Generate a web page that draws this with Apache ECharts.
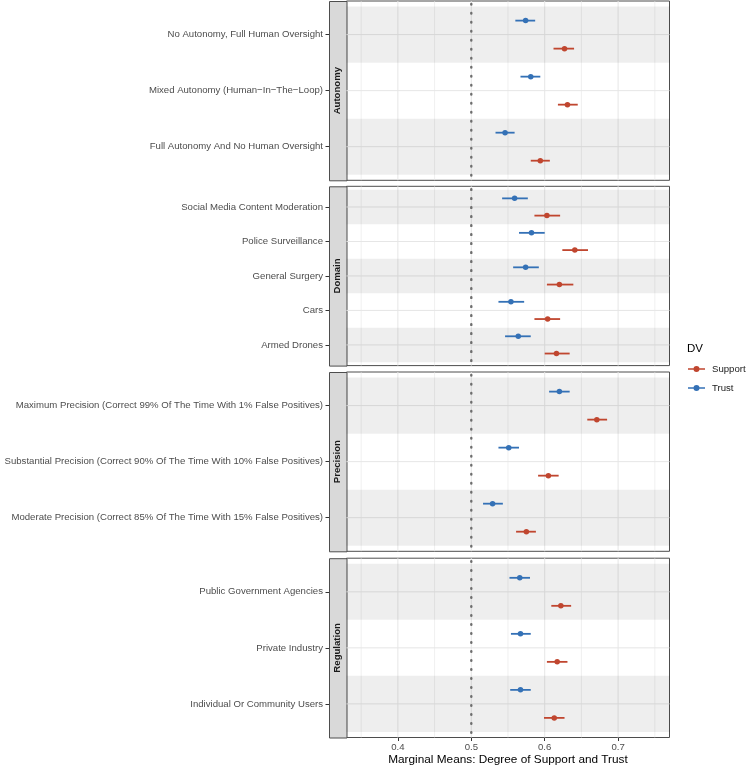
<!DOCTYPE html>
<html>
<head>
<meta charset="utf-8">
<script src="https://cdn.jsdelivr.net/npm/echarts@6/dist/echarts.min.js"></script>
<style>
html,body{margin:0;padding:0;background:#fff;}
#main{width:750px;height:769px;}
</style>
</head>
<body>
<div id="main"></div>
<script>
// facet names
var facetNames = ['Autonomy', 'Domain', 'Precision', 'Regulation'];

// levels of each facet (top to bottom)
var autonomyLabels = ['No Autonomy, Full Human Oversight', 'Mixed Autonomy (Human\u2212In\u2212The\u2212Loop)', 'Full Autonomy And No Human Oversight'];
var domainLabels = ['Social Media Content Moderation', 'Police Surveillance', 'General Surgery', 'Cars', 'Armed Drones'];
var precisionLabels = ['Maximum Precision (Correct 99% Of The Time With 1% False Positives)', 'Substantial Precision (Correct 90% Of The Time With 10% False Positives)', 'Moderate Precision (Correct 85% Of The Time With 15% False Positives)'];
var regulationLabels = ['Public Government Agencies', 'Private Industry', 'Individual Or Community Users'];

// marginal means + 95% CI, Trust
var autonomyTrust = [0.574, 0.581, 0.546];
var autonomyTrustLow = [0.560, 0.567, 0.533];
var autonomyTrustHigh = [0.587, 0.594, 0.559];
var domainTrust = [0.559, 0.582, 0.574, 0.554, 0.564];
var domainTrustLow = [0.542, 0.565, 0.557, 0.537, 0.546];
var domainTrustHigh = [0.577, 0.600, 0.592, 0.572, 0.581];
var precisionTrust = [0.620, 0.551, 0.529];
var precisionTrustLow = [0.606, 0.537, 0.516];
var precisionTrustHigh = [0.634, 0.565, 0.543];
var regulationTrust = [0.566, 0.567, 0.567];
var regulationTrustLow = [0.552, 0.554, 0.553];
var regulationTrustHigh = [0.580, 0.581, 0.581];

// marginal means + 95% CI, Support
var autonomySupport = [0.627, 0.631, 0.594];
var autonomySupportLow = [0.612, 0.618, 0.581];
var autonomySupportHigh = [0.640, 0.645, 0.607];
var domainSupport = [0.603, 0.641, 0.620, 0.604, 0.616];
var domainSupportLow = [0.586, 0.624, 0.603, 0.586, 0.600];
var domainSupportHigh = [0.621, 0.659, 0.639, 0.621, 0.634];
var precisionSupport = [0.671, 0.605, 0.575];
var precisionSupportLow = [0.658, 0.591, 0.561];
var precisionSupportHigh = [0.685, 0.619, 0.588];
var regulationSupport = [0.622, 0.617, 0.613];
var regulationSupportLow = [0.609, 0.603, 0.599];
var regulationSupportHigh = [0.636, 0.631, 0.627];

// x axis ticks
var xTicks = [0.4, 0.5, 0.6, 0.7];
var xMinorTicks = [0.35, 0.45, 0.55, 0.65, 0.75];
var refValue = 0.5;

var panels = [
	{labels: autonomyLabels, trust: [autonomyTrust, autonomyTrustLow, autonomyTrustHigh], support: [autonomySupport, autonomySupportLow, autonomySupportHigh]},
	{labels: domainLabels, trust: [domainTrust, domainTrustLow, domainTrustHigh], support: [domainSupport, domainSupportLow, domainSupportHigh]},
	{labels: precisionLabels, trust: [precisionTrust, precisionTrustLow, precisionTrustHigh], support: [precisionSupport, precisionSupportLow, precisionSupportHigh]},
	{labels: regulationLabels, trust: [regulationTrust, regulationTrustLow, regulationTrustHigh], support: [regulationSupport, regulationSupportLow, regulationSupportHigh]}
];

var supportColor = '#C0462F';
var trustColor = '#3471B6';
var font = 'Liberation Sans, Arial, Helvetica, sans-serif';
var xMin = 0.33, xMax = 0.77;
var gridLeft = 346.5, gridRight = 80.5;
var panelTops = [1, 186.3, 372, 558.2];
var panelHeight = 179.3;
var stripW = 17.5;

var grids = [], xAxes = [], yAxes = [], series = [], graphics = [];

panels.forEach(function(p, k) {
	var n = p.labels.length;
	var yMin = 0.4, yMax = n + 0.6;
	var last = k === panels.length - 1;

	grids.push({
		left: gridLeft, right: gridRight, top: panelTops[k], height: panelHeight,
		show: true, backgroundColor: '#fff', borderColor: '#4d4d4d', borderWidth: 1,
		containLabel: false, outerBoundsMode: 'none'
	});

	xAxes.push({
		type: 'value', gridIndex: k, min: xMin, max: xMax,
		axisLine: {show: false},
		splitLine: {show: false},
		axisTick: {show: last, length: 3.5, lineStyle: {color: '#333'}, customValues: xTicks},
		axisLabel: {show: last, customValues: xTicks, margin: 5, fontSize: 9.6, color: '#4d4d4d', fontFamily: font,
			formatter: function(v) { return v.toFixed(1); }},
		name: last ? 'Marginal Means: Degree of Support and Trust' : '',
		nameLocation: 'middle', nameGap: 16, nameMoveOverlap: false,
		nameTextStyle: {fontSize: 11.8, color: '#000', fontFamily: font}
	});

	var ticks = p.labels.map(function(_, i) { return i + 1; });
	yAxes.push({
		type: 'value', gridIndex: k, min: yMin, max: yMax, inverse: true, offset: stripW,
		axisLine: {show: false},
		splitLine: {show: false},
		axisTick: {show: true, length: 3.5, lineStyle: {color: '#333'}, customValues: ticks},
		axisLabel: {customValues: ticks, margin: 6, fontSize: 9.6, color: '#4d4d4d', fontFamily: font,
			formatter: function(v) { return p.labels[Math.round(v) - 1] || ''; }}
	});

	// vertical grid lines
	var vData = xTicks.map(function(v) { return [v, 1]; }).concat(xMinorTicks.map(function(v) { return [v, 0]; }));
	series.push({
		type: 'custom', xAxisIndex: k, yAxisIndex: k, silent: true, z: 1,
		data: vData,
		renderItem: function(params, api) {
			var a = api.coord([api.value(0), yMin]);
			var b = api.coord([api.value(0), yMax]);
			return {type: 'line', shape: {x1: a[0], y1: a[1], x2: b[0], y2: b[1]},
				style: {stroke: '#e6e6e6', lineWidth: api.value(1) ? 1 : 0.6}};
		}
	});
	// horizontal grid lines
	series.push({
		type: 'custom', xAxisIndex: k, yAxisIndex: k, silent: true, z: 1,
		data: ticks.map(function(t) { return [xMin, t]; }),
		renderItem: function(params, api) {
			var a = api.coord([xMin, api.value(1)]);
			var b = api.coord([xMax, api.value(1)]);
			return {type: 'line', shape: {x1: a[0], y1: a[1], x2: b[0], y2: b[1]},
				style: {stroke: '#e6e6e6', lineWidth: 1}};
		}
	});
	// shaded bands for odd levels
	series.push({
		type: 'custom', xAxisIndex: k, yAxisIndex: k, silent: true, z: 2,
		data: ticks.filter(function(t) { return t % 2 === 1; }).map(function(t) { return [xMin, t]; }),
		renderItem: function(params, api) {
			var t = api.value(1);
			var a = api.coord([xMin, t - 0.5]);
			var b = api.coord([xMax, t + 0.5]);
			return {type: 'rect', shape: {x: a[0], y: Math.min(a[1], b[1]), width: b[0] - a[0], height: Math.abs(b[1] - a[1])},
				style: {fill: 'rgba(0,0,0,0.065)'}};
		}
	});
	// dotted reference line at 0.5
	series.push({
		type: 'custom', xAxisIndex: k, yAxisIndex: k, silent: true, z: 3,
		data: [[refValue, yMin]],
		renderItem: function(params, api) {
			var a = api.coord([api.value(0), yMin]);
			var b = api.coord([api.value(0), yMax]);
			return {type: 'line', shape: {x1: a[0], y1: a[1] + 3, x2: b[0], y2: b[1]},
				style: {stroke: '#6e6e6e', lineWidth: 2.4, lineDash: [0.6, 8.4], lineCap: 'round'}};
		}
	});

	[['Trust', p.trust, trustColor, -0.25], ['Support', p.support, supportColor, 0.25]].forEach(function(d) {
		var name = d[0], vals = d[1], color = d[2], dodge = d[3];
		series.push({
			type: 'custom', name: name, xAxisIndex: k, yAxisIndex: k, z: 4,
			itemStyle: {color: color},
			encode: {x: [0, 1], y: 2},
			data: vals[0].map(function(_, i) { return [vals[1][i], vals[2][i], i + 1 + dodge]; }),
			renderItem: function(params, api) {
				var a = api.coord([api.value(0), api.value(2)]);
				var b = api.coord([api.value(1), api.value(2)]);
				return {type: 'line', shape: {x1: a[0], y1: a[1], x2: b[0], y2: b[1]},
					style: {stroke: color, lineWidth: 1.8}};
			}
		});
		series.push({
			type: 'scatter', name: name, xAxisIndex: k, yAxisIndex: k, z: 5,
			symbol: 'circle', symbolSize: 5.5,
			itemStyle: {color: color, opacity: 1},
			data: vals[0].map(function(v, i) { return [v, i + 1 + dodge]; })
		});
	});

	// facet strip on the left
	graphics.push({
		type: 'rect', left: gridLeft - stripW, top: panelTops[k],
		shape: {width: stripW, height: panelHeight},
		style: {fill: '#d9d9d9', stroke: '#4d4d4d', lineWidth: 1}
	});
	graphics.push({
		type: 'text', x: gridLeft - stripW / 2, y: panelTops[k] + panelHeight / 2, rotation: Math.PI / 2,
		style: {text: facetNames[k], fontSize: 9.6, fontWeight: 'bold', fill: '#1a1a1a', fontFamily: font,
			align: 'center', verticalAlign: 'middle'}
	});
});

// legend title
graphics.push({
	type: 'text', x: 687, y: 349,
	style: {text: 'DV', fontSize: 11.5, fill: '#000', fontFamily: font, verticalAlign: 'middle'}
});

// legend key: short line with a dot
var keyIcon = 'path://M0,2.3L17,2.3L17,3.7L0,3.7Z M5.5,3A3,3 0 1,1 11.5,3A3,3 0 1,1 5.5,3Z';

var myChart = echarts.init(document.getElementById('main'), null, {renderer: 'canvas'});
var option = {
	animation: false,
	backgroundColor: '#fff',
	textStyle: {fontFamily: font},
	grid: grids,
	xAxis: xAxes,
	yAxis: yAxes,
	legend: {
		orient: 'vertical', left: 688, top: 363, padding: 0,
		itemWidth: 17, itemHeight: 6, itemGap: 7,
		selectedMode: false,
		textStyle: {fontSize: 9.6, color: '#1a1a1a', fontFamily: font, lineHeight: 12, padding: [0, 0, 0, 2]},
		data: [
			{name: 'Support', icon: keyIcon, itemStyle: {color: supportColor}},
			{name: 'Trust', icon: keyIcon, itemStyle: {color: trustColor}}
		]
	},
	graphic: graphics,
	series: series
};
myChart.setOption(option);
</script>
</body>
</html>
